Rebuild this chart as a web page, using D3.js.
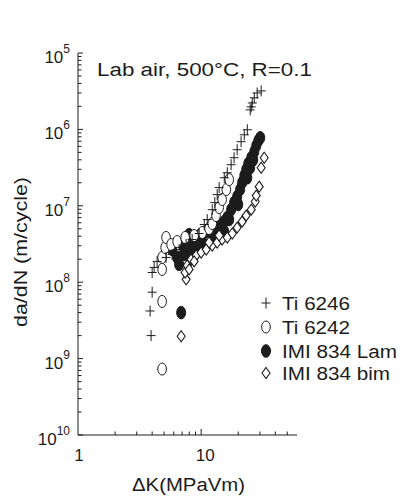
<!DOCTYPE html>
<html><head><meta charset="utf-8">
<script src="https://cdn.jsdelivr.net/npm/d3@7"></script>
<style>html,body{margin:0;padding:0;background:#fff;}svg{display:block;font-family:"Liberation Sans",Arial,sans-serif;}</style>
</head><body>
<script>
// ---- data ----
const seriesNames = ["Ti 6246", "Ti 6242", "IMI 834 Lam", "IMI 834 bim"];
const ti6246 = [[3.92,2.0e-9],[3.85,4.2e-9],[4.0,7.4e-9],[4.0,1.34e-8],[4.15,1.56e-8],[4.39,1.87e-8],[5.19,2.11e-8],[5.81,2.31e-8],[6.62,2.68e-8],[7.55,3.11e-8],[8.45,3.62e-8],[9.63,4.34e-8],[10.6,5.69e-8],[11.2,6.6e-8],[12.3,8.9e-8],[12.9,1.1e-7],[13.5,1.40e-7],[14.0,1.73e-7],[15.4,2.33e-7],[16.3,2.71e-7],[17.5,3.45e-7],[18.5,4.26e-7],[19.6,5.42e-7],[21.1,6.9e-7],[22.4,8.5e-7],[23.7,9.9e-7],[25.0,1.8e-6],[25.5,1.97e-6],[26.0,2.22e-6],[27.0,2.59e-6],[28.5,3.0e-6],[30.7,3.19e-6]];
const ti6242 = [[4.82,7.3e-10],[4.82,5.6e-9],[4.82,1.47e-8],[4.82,2.11e-8],[5.10,2.84e-8],[5.19,3.85e-8],[5.70,3.11e-8],[6.38,3.41e-8],[7.41,3.85e-8],[8.77,4.08e-8],[10.2,4.47e-8],[11.6,5.04e-8],[12.3,5.86e-8],[13.2,7.45e-8],[14.0,9.5e-8],[14.8,1.21e-7],[16.0,1.63e-7],[16.9,2.2e-7]];
const imi834Lam = [[6.88,4.0e-9],[5.81,2.68e-8],[6.38,2.11e-8],[6.62,1.71e-8],[7.01,3.21e-8],[7.55,3.62e-8],[7.99,4.2e-8],[8.77,3.62e-8],[9.63,4.08e-8],[10.6,4.47e-8],[11.6,4.6e-8],[12.8,5.19e-8],[14.0,5.69e-8],[15.4,6.2e-8],[16.3,7.0e-8],[17.5,8.9e-8],[18.5,1.10e-7],[19.6,1.32e-7],[20.7,1.63e-7],[21.5,2.01e-7],[22.4,2.48e-7],[23.2,2.97e-7],[24.1,3.56e-7],[25.5,4.26e-7],[27.0,5.1e-7],[28.0,6.1e-7],[29.1,7.1e-7],[30.2,7.77e-7],[23.7,2.33e-7],[25.0,3.15e-7],[26.5,4.0e-7],[20.0,1.04e-7],[16.9,6.6e-8],[14.5,4.89e-8],[8.77,2.84e-8],[10.6,3.11e-8],[7.41,2.4e-8],[12.8,3.9e-8],[7.28,2.31e-8],[8.29,2.68e-8],[9.63,3.11e-8],[12.8,3.85e-8],[15.4,4.6e-8]];
const imi834Bim = [[6.88,1.96e-9],[7.55,1.09e-8],[7.41,1.34e-8],[7.70,1.66e-8],[8.29,1.99e-8],[9.11,2.24e-8],[10.0,2.45e-8],[11.0,2.68e-8],[12.3,3.02e-8],[13.5,3.31e-8],[14.8,3.62e-8],[16.3,3.85e-8],[17.9,4.34e-8],[19.6,5.19e-8],[21.5,6.2e-8],[23.2,7.45e-8],[25.5,8.9e-8],[27.5,1.14e-7],[28.0,1.36e-7],[29.6,1.78e-7],[30.7,3.15e-7],[32.5,4.26e-7],[7.99,1.47e-8],[8.77,1.87e-8],[11.6,3.31e-8],[14.0,4.08e-8]];
const xTicks = [1, 10];
const xTickLabels = ["1", "10"];
const yTicks = [1e-5, 1e-6, 1e-7, 1e-8, 1e-9, 1e-10];
const yTickExps = ["5", "6", "7", "8", "9", "10"];
const titleText = "Lab air, 500°C, R=0.1";
const xLabel = "\u0394K(MPaVm)";
const yLabel = "da/dN (m/cycle)";

// ---- layout ----
const W = 400, H = 500;
const ink = "#1c1c1c";
const svg = d3.select("body").append("svg").attr("width", W).attr("height", H);
const x = d3.scaleLog().domain([1, 60]).range([78, 297]);
const y = d3.scaleLog().domain([1e-10, 1e-5]).range([435, 53]);
const x0 = x.range()[0], yb = y.range()[0];

// axes lines
svg.append("line").attr("x1", x0).attr("x2", x0).attr("y1", y(1e-5)).attr("y2", yb).attr("stroke", ink).attr("stroke-width", 1);
svg.append("line").attr("x1", x0).attr("x2", x.range()[1]).attr("y1", yb).attr("y2", yb).attr("stroke", ink).attr("stroke-width", 1);

// y ticks (inward)
const yAll = [];
for (let e = -10; e < -5; e++) for (let m = 1; m < 10; m++) yAll.push(m * Math.pow(10, e));
yAll.push(1e-5);
svg.append("g").selectAll("line").data(yAll).join("line")
  .attr("x1", x0).attr("x2", d => x0 + (yTicks.some(t => Math.abs(t - d) / t < 1e-6) ? 5 : 3.5))
  .attr("y1", d => y(d)).attr("y2", d => y(d)).attr("stroke", ink).attr("stroke-width", 1);

// x ticks (inward)
const xAll = [];
for (let m = 2; m <= 10; m++) xAll.push(m);
for (let m = 20; m <= 50; m += 10) xAll.push(m);
svg.append("g").selectAll("line").data(xAll).join("line")
  .attr("x1", d => x(d)).attr("x2", d => x(d))
  .attr("y1", yb).attr("y2", d => yb - (d === 10 ? 6 : 3.5)).attr("stroke", ink).attr("stroke-width", 1);

// y tick labels
const yl = svg.append("g").selectAll("text").data(yTicks).join("text")
  .attr("x", x0 - 8).attr("y", d => y(d) + 10).attr("text-anchor", "end")
  .attr("fill", ink).attr("font-size", 17);
yl.append("tspan").text("10");
yl.append("tspan").attr("dy", -10).attr("font-size", 12).text((d, i) => yTickExps[i]);

// x tick labels
svg.append("g").selectAll("text").data(xTicks).join("text")
  .attr("x", d => x(d) + (d === 10 ? 4 : 1)).attr("y", yb + 26).attr("text-anchor", "middle")
  .attr("fill", ink).attr("font-size", 17).text((d, i) => xTickLabels[i]);

// axis titles
svg.append("text").attr("x", 132).attr("y", 491).attr("font-size", 18).attr("fill", ink)
  .attr("textLength", 113).attr("lengthAdjust", "spacingAndGlyphs").text(xLabel);
svg.append("text").attr("transform", "translate(27,252) rotate(-90)").attr("text-anchor", "middle")
  .attr("font-size", 18).attr("fill", ink).attr("textLength", 150).attr("lengthAdjust", "spacingAndGlyphs").text(yLabel);

// title
svg.append("text").attr("x", 97).attr("y", 76).attr("font-size", 18).attr("fill", ink)
  .attr("textLength", 215).attr("lengthAdjust", "spacingAndGlyphs").text(titleText);

// markers
function plus(g) { g.append("path").attr("d", "M-4.5,0H4.5M0,-5.5V5.5").attr("stroke", ink).attr("stroke-width", 1).attr("fill", "none"); }
function ring(g) { g.append("ellipse").attr("rx", 4.3).attr("ry", 6).attr("fill", "#fff").attr("stroke", ink).attr("stroke-width", 1); }
function dot(g) { g.append("ellipse").attr("rx", 4.5).attr("ry", 6.3).attr("fill", ink).attr("stroke", ink).attr("stroke-width", 1); }
function diamond(g) { g.append("path").attr("d", "M0,-5.5L4,0L0,5.5L-4,0Z").attr("fill", "#fff").attr("stroke", ink).attr("stroke-width", 1.1); }
const markers = [plus, ring, dot, diamond];
const seriesData = [ti6246, ti6242, imi834Lam, imi834Bim];
const drawOrder = [2, 3, 1, 0];
drawOrder.forEach(si => {
  svg.append("g").selectAll("g").data(seriesData[si]).join("g")
    .attr("transform", d => `translate(${x(d[0])},${y(d[1])})`)
    .each(function () { markers[si](d3.select(this)); });
});

// legend
const legendRowsY = [303, 327, 351, 373];
const legendW = [68, 68, 115, 108];
const lg = svg.append("g");
seriesNames.forEach((n, i) => {
  const g = lg.append("g").attr("transform", `translate(266,${legendRowsY[i]})`);
  markers[i](g);
  lg.append("text").attr("x", 282).attr("y", legendRowsY[i] + 7).attr("font-size", 18).attr("fill", ink)
    .attr("textLength", legendW[i]).attr("lengthAdjust", "spacingAndGlyphs").text(n);
});
</script>
</body></html>
